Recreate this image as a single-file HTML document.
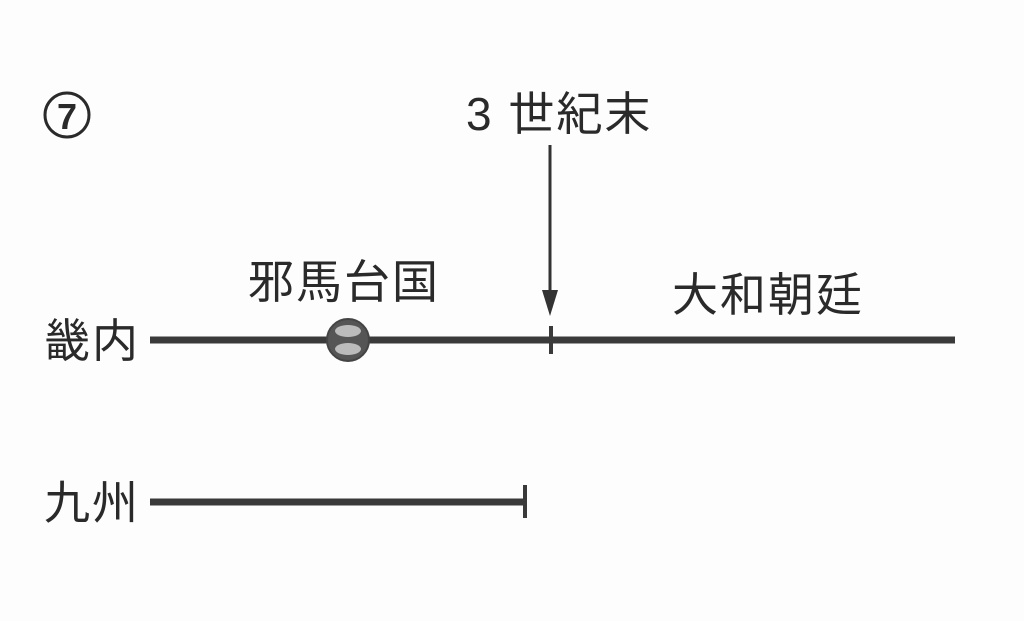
<!DOCTYPE html>
<html><head><meta charset="utf-8"><style>
html,body{margin:0;padding:0;background:#fff;}
.w{position:relative;width:1024px;height:621px;overflow:hidden;background:#fdfdfd;font-family:"Liberation Sans","Noto Sans CJK JP",sans-serif;color:#2a2a2a;}
.t{position:absolute;white-space:nowrap;line-height:1;font-size:46px;letter-spacing:2px;}
</style></head><body><div class="w">
<svg width="1024" height="621" style="position:absolute;left:0;top:0">
<circle cx="67" cy="115" r="22" fill="none" stroke="#2a2a2a" stroke-width="3"/>
<text x="67" y="129" font-size="36" font-weight="bold" text-anchor="middle" fill="#2a2a2a" font-family="Liberation Sans, sans-serif">7</text>
<line x1="550" y1="145" x2="550" y2="300" stroke="#333" stroke-width="3"/>
<polygon points="542,290 558,290 550,316" fill="#333"/>
<line x1="150" y1="340" x2="955" y2="340" stroke="#3a3a3a" stroke-width="7"/>
<line x1="551" y1="326" x2="551" y2="354" stroke="#3a3a3a" stroke-width="4"/>
<circle cx="348" cy="340" r="21" fill="#555" stroke="#444" stroke-width="2"/>
<ellipse cx="348" cy="331" rx="13" ry="6" fill="#bbb"/>
<ellipse cx="348" cy="349" rx="13" ry="6" fill="#bbb"/>
<line x1="150" y1="502" x2="525" y2="502" stroke="#3a3a3a" stroke-width="7"/>
<line x1="525" y1="485" x2="525" y2="518" stroke="#3a3a3a" stroke-width="4"/>
</svg>
<div class="t" style="left:466px;top:91px;">3 世紀末</div>
<div class="t" style="left:248px;top:259px;">邪馬台国</div>
<div class="t" style="left:672px;top:272px;">大和朝廷</div>
<div class="t" style="left:44px;top:318px;">畿内</div>
<div class="t" style="left:44px;top:480px;">九州</div>
</div></body></html>
